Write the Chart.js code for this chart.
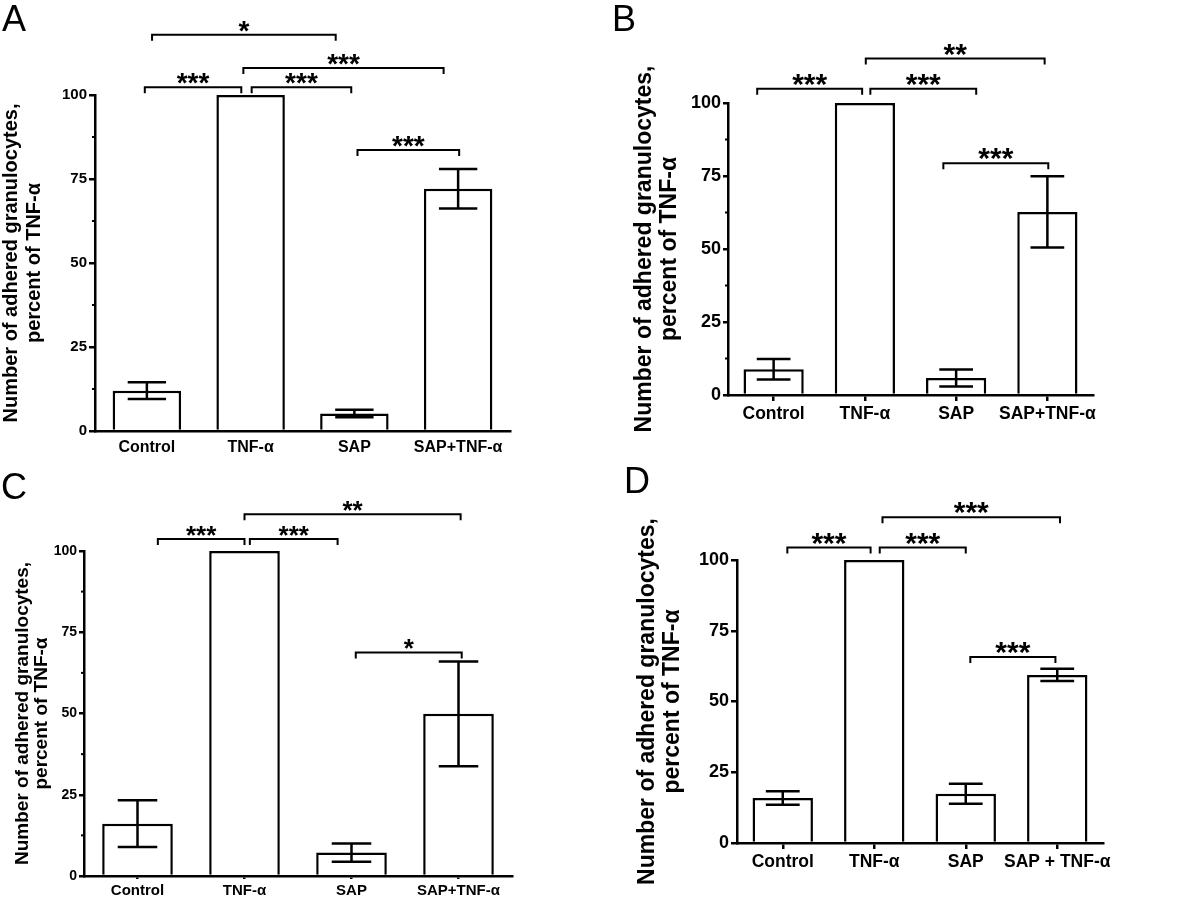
<!DOCTYPE html>
<html>
<head>
<meta charset="utf-8">
<script src="https://cdn.jsdelivr.net/npm/chart.js@4"></script>
<style>
  body { margin: 0; background: #fff; }
  #wrap { position: relative; width: 1200px; height: 900px; overflow: hidden; }
  canvas { position: absolute; }
  .letra { position: absolute; font-family: "Liberation Sans", Arial, sans-serif; font-size: 36px; line-height: 36px; color: #000; }
</style>
</head>
<body>
<div id="wrap">
  <canvas id="chartA" width="580" height="460" style="left:0px;top:0px"></canvas>
  <canvas id="chartB" width="600" height="460" style="left:600px;top:0px"></canvas>
  <canvas id="chartC" width="600" height="440" style="left:0px;top:460px"></canvas>
  <canvas id="chartD" width="600" height="440" style="left:600px;top:460px"></canvas>
  <div class="letra" style="left:2px;top:1px">A</div>
  <div class="letra" style="left:612px;top:1px">B</div>
  <div class="letra" style="left:1px;top:469px">C</div>
  <div class="letra" style="left:624px;top:463px">D</div>
</div>
<script>
const categorias = ['Control', 'TNF-α', 'SAP', 'SAP+TNF-α'];
const categoriasD = ['Control', 'TNF-α', 'SAP', 'SAP + TNF-α'];
const tituloY = ['Number of adhered granulocytes,', 'percent of TNF-α'];

// medias e erros (percent of TNF-α)
const mediasA = [12, 100, 5.2, 72.1];
const errosA = [2.5, 0, 1.1, 5.9];
const mediasB = [8.8, 100, 5.8, 62.7];
const errosB = [3.5, 0, 2.9, 12.2];
const mediasC = [16.1, 100, 7.2, 49.9];
const errosC = [7.2, 0, 2.8, 16.1];
const mediasD = [15.9, 100, 17.4, 59.4];
const errosD = [2.4, 0, 3.5, 2.2];

// chaves de significancia: [de (indice), ate (indice), altura, texto]
const chavesA = [[0.05, 1.82, 117.9, '*'], [-0.02, 0.91, 102.3, '***'], [1.01, 1.97, 102.3, '***'], [0.93, 2.86, 108, '***'], [2.03, 3.01, 83.6, '***']];
const chavesB = [[-0.18, 0.97, 104.9, '***'], [1.06, 2.22, 104.9, '***'], [1.01, 2.97, 115.2, '**'], [1.86, 3.01, 79.4, '***']];
const chavesC = [[0.19, 1.0, 103.7, '***'], [1.05, 1.87, 103.7, '***'], [1.0, 3.02, 111.3, '**'], [2.04, 3.03, 68.8, '*']];
const chavesD = [[0.05, 0.96, 104.4, '***'], [1.06, 2.0, 104.4, '***'], [1.09, 3.03, 115.1, '***'], [2.05, 2.98, 65.7, '***']];

const fonte = '"Liberation Sans", Arial, sans-serif';

const errosPlugin = {
  id: 'erros',
  afterDraw(chart, args, opts) {
    const ctx = chart.ctx;
    const x = chart.scales.x;
    const y = chart.scales.y;
    const meta = chart.getDatasetMeta(0);
    const medias = chart.data.datasets[0].data;
    ctx.save();
    ctx.strokeStyle = '#000';
    ctx.lineWidth = 2.5;
    opts.erros.forEach((e, i) => {
      if (!e) return;
      const cx = x.getPixelForValue(i);
      const meia = meta.data[i].width * 0.28;
      const yTopo = y.getPixelForValue(medias[i] + e);
      const yBase = y.getPixelForValue(medias[i] - e);
      ctx.beginPath();
      ctx.moveTo(cx, yTopo); ctx.lineTo(cx, yBase);
      ctx.moveTo(cx - meia, yTopo); ctx.lineTo(cx + meia, yTopo);
      ctx.moveTo(cx - meia, yBase); ctx.lineTo(cx + meia, yBase);
      ctx.stroke();
    });

    // tracinhos menores no eixo y
    if (opts.menores) {
      ctx.lineWidth = 2;
      [12.5, 37.5, 62.5, 87.5].forEach(v => {
        const py = y.getPixelForValue(v);
        ctx.beginPath();
        ctx.moveTo(chart.chartArea.left - 3, py);
        ctx.lineTo(chart.chartArea.left, py);
        ctx.stroke();
      });
    }

    ctx.lineWidth = 2;
    ctx.fillStyle = '#000';
    ctx.font = 'bold ' + opts.tamEstrela + 'px ' + fonte;
    ctx.textAlign = 'center';
    ctx.textBaseline = 'alphabetic';
    opts.chaves.forEach(c => {
      const x1 = x.getPixelForValue(c[0]);
      const x2 = x.getPixelForValue(c[1]);
      const py = y.getPixelForValue(c[2]);
      ctx.beginPath();
      ctx.moveTo(x1, py + 6); ctx.lineTo(x1, py);
      ctx.lineTo(x2, py); ctx.lineTo(x2, py + 6);
      ctx.stroke();
      // a estrela fica 3px acima da linha
      const m = ctx.measureText(c[3]);
      ctx.fillText(c[3], (x1 + x2) / 2, py - 3 - m.actualBoundingBoxDescent);
    });
    ctx.restore();
  }
};

function criarGrafico(id, rotulos, medias, erros, chaves, cfg) {
  const ctx = document.getElementById(id).getContext('2d');
  return new Chart(ctx, {
    type: 'bar',
    data: {
      labels: rotulos,
      datasets: [{
        data: medias,
        backgroundColor: '#fff',
        borderColor: '#000',
        borderWidth: 2.5,
        barPercentage: 0.66,
        categoryPercentage: 1
      }]
    },
    options: {
      responsive: false,
      animation: false,
      events: [],
      layout: { padding: { left: cfg.padEsq, top: cfg.topo, right: cfg.dir, bottom: 0 } },
      plugins: {
        legend: { display: false },
        tooltip: { enabled: false },
        erros: { erros: erros, chaves: chaves, menores: cfg.menores, tamEstrela: cfg.tamEstrela }
      },
      scales: {
        x: {
          grid: {
            display: true, drawOnChartArea: false, offset: false,
            drawTicks: cfg.tickX > 0, tickLength: cfg.tickX, color: '#000', lineWidth: 2.5
          },
          border: { color: '#000', width: 2.5 },
          ticks: {
            color: '#000', padding: cfg.padX, maxRotation: 0, autoSkip: false,
            font: { family: fonte, size: cfg.tamRotulo, weight: 'bold' }
          },
          afterFit: s => { s.height = cfg.altX; }
        },
        y: {
          min: 0, max: 100,
          grid: { drawOnChartArea: false, tickLength: cfg.tickY, color: '#000', lineWidth: 2.5 },
          border: { color: '#000', width: 2.5 },
          ticks: {
            stepSize: 25, color: '#000', padding: 2,
            font: { family: fonte, size: cfg.tamTick, weight: 'bold' }
          },
          title: {
            display: true, text: tituloY, color: '#000', padding: 0,
            font: { family: fonte, size: cfg.tamTitulo, weight: 'bold', lineHeight: cfg.alturaLinha }
          },
          afterFit: s => { s.width = cfg.largY; }
        }
      }
    },
    plugins: [errosPlugin]
  });
}

criarGrafico('chartA', categorias, mediasA, errosA, chavesA, {
  padEsq: 0, largY: 95, topo: 95, dir: 70, altX: 29, tickX: 0, padX: 7, tickY: 6,
  tamTick: 15, tamRotulo: 16, tamTitulo: 20, alturaLinha: 1.15, tamEstrela: 28, menores: true
});
criarGrafico('chartB', categorias, mediasB, errosB, chavesB, {
  padEsq: 33, largY: 95, topo: 103, dir: 107, altX: 65, tickX: 6, padX: 3, tickY: 5,
  tamTick: 18, tamRotulo: 17.5, tamTitulo: 23, alturaLinha: 1.05, tamEstrela: 30, menores: true
});
criarGrafico('chartC', categorias, mediasC, errosC, chavesC, {
  padEsq: 13, largY: 71, topo: 91, dir: 88, altX: 24, tickX: 3, padX: 3, tickY: 5,
  tamTick: 14, tamRotulo: 15, tamTitulo: 19, alturaLinha: 1.0, tamEstrela: 26, menores: true
});
criarGrafico('chartD', categoriasD, mediasD, errosD, chavesD, {
  padEsq: 35, largY: 102, topo: 100, dir: 97, altX: 57, tickX: 6, padX: 3, tickY: 6,
  tamTick: 18, tamRotulo: 17.5, tamTitulo: 23, alturaLinha: 1.1, tamEstrela: 30, menores: false
});
</script>
</body>
</html>
